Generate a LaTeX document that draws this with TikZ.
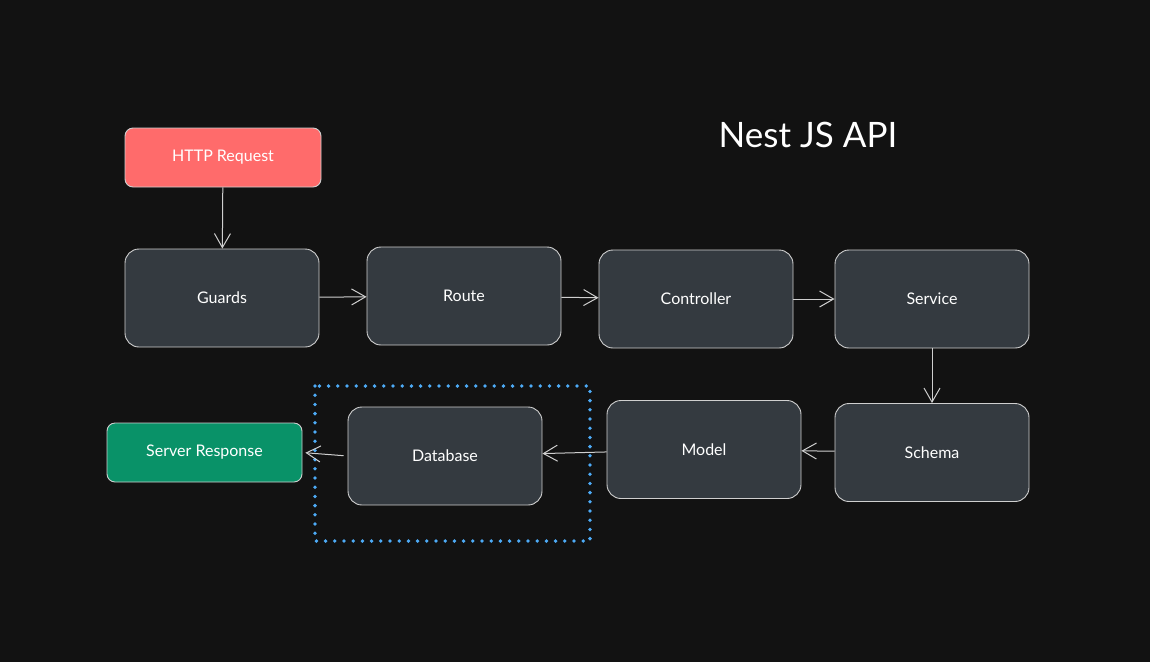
\documentclass[tikz,border=0pt]{standalone}
\usepackage{fontspec}
\setmainfont{Lato}
\usepackage{tikz}
\usetikzlibrary{arrows.meta}
\usetikzlibrary{positioning}
\definecolor{bgdark}{HTML}{121212}
\definecolor{boxgray}{HTML}{343A40}
\definecolor{edgegray}{HTML}{CFCFCF}
\definecolor{reqred}{HTML}{FF6B6B}
\definecolor{resgreen}{HTML}{099268}
\definecolor{dotblue}{HTML}{4DABF7}

\begin{document}
\begin{tikzpicture}[x=1pt,y=-1pt,
		box/.style={draw=edgegray, fill=boxgray, text=white, line width=0.9pt, rounded corners=14pt,
			minimum width=194pt, minimum height=98pt, inner sep=0pt, font=\fontsize{16}{18}\selectfont},
		smallbox/.style={box, rounded corners=8pt, minimum width=196pt, minimum height=59pt},
		arr/.style={draw=edgegray, line width=1pt, -{Straight Barb[length=14pt,width=16pt]}}]
				\fill[bgdark] (0,0) rectangle (1150,662);
				\node[text=white, font=\fontsize{35}{40}\selectfont] (title) at (808,135) {Nest JS API};
				% top row
				\node[smallbox, fill=reqred] (req) at (223,157.5) {HTTP Request};
				\node[box] (guards) at (222,298) {Guards};
				\node[box] (route) at (464,296) {Route};
				\node[box] (ctrl) at (696,299) {Controller};
				\node[box] (service) at (932,299) {Service};
				% bottom row
				\node[box] (schema) at (932,452.5) {Schema};
				\node[box] (model) at (704,449.5) {Model};
				\node[box] (db) at (445,456) {Database};
				\node[smallbox, fill=resgreen, minimum width=195pt] (res) at (204.5,452.5) {Server Response};
				\draw[dotblue, line width=3.8pt, line cap=round, dash pattern=on 0pt off 9.2pt] (315,386) rectangle (590,541);
				\draw[arr] (req) -- (guards);
				\draw[arr] (guards) -- (route);
				\draw[arr] (route) -- (ctrl);
				\draw[arr] (ctrl) -- (service);
				\draw[arr] (service) -- (schema);
				\draw[arr] (schema) -- (model);
				\draw[arr] (model) -- (db);
				\draw[arr, shorten <=4pt, shorten >=3pt] (db.west) -- (res.east);
			\end{tikzpicture}
\end{document}
